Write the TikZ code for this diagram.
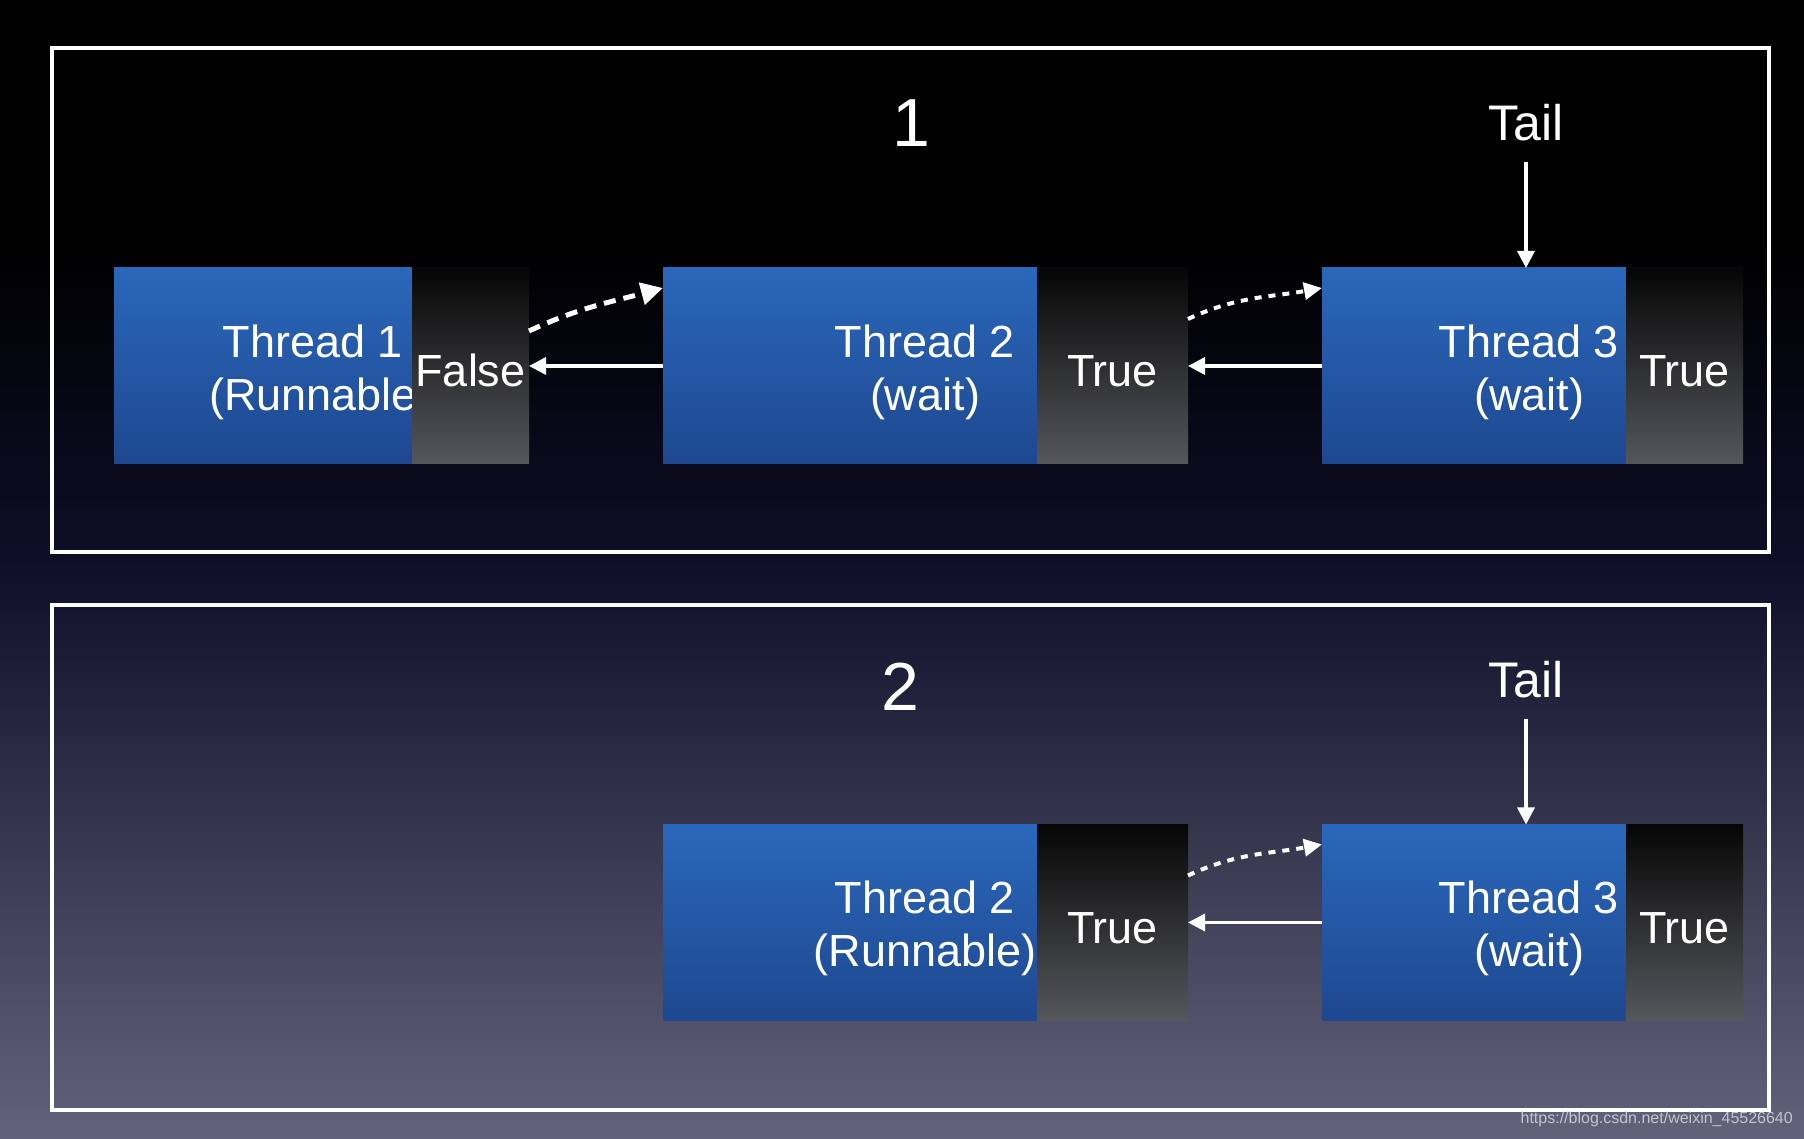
\documentclass[tikz,border=0pt]{standalone}
\usepackage{fontspec}
\setmainfont{Liberation Sans}
\usetikzlibrary{positioning,arrows.meta}
\definecolor{bgmid}{RGB}{14,14,40}
\definecolor{bgbot}{RGB}{98,98,122}
\definecolor{blueTop}{RGB}{42,103,186}
\definecolor{blueBot}{RGB}{30,72,144}
\definecolor{grayTop}{RGB}{6,6,6}
\definecolor{grayBot}{RGB}{86,87,91}
\definecolor{markgray}{RGB}{196,196,206}

\begin{document}
\begin{tikzpicture}[x=1pt, y=1pt,
    threadbox/.style={rectangle, top color=blueTop, bottom color=blueBot, minimum height=196pt, inner sep=0pt, outer sep=0pt},
    flagbox/.style={rectangle, top color=grayTop, bottom color=grayBot, minimum height=196pt, inner sep=0pt, outer sep=0pt, text=white, text height=42pt, text depth=0pt, font=\fontsize{45}{53}\selectfont},
    txt/.style={text=white, align=center, inner sep=0pt, font=\fontsize{45}{53}\selectfont},
    frame/.style={draw=white, line width=3.5pt},
    link/.style={white, line width=3.5pt, -{Triangle[length=17pt, width=17pt]}},
    dashlink/.style={white, line width=5pt, dash pattern=on 12pt off 8pt, -{Triangle[length=22pt, width=22pt]}},
    dotlink/.style={white, line width=4pt, dash pattern=on 7pt off 7pt, -{Triangle[length=18pt, width=17pt]}}]
    % background
    \useasboundingbox (0,0) rectangle (1804,1138);
    \fill[black] (0,1138) rectangle (1804,900);
    \shade[top color=black, bottom color=bgmid] (0,900) rectangle (1804,578);
    \shade[top color=bgmid, bottom color=bgbot] (0,578) rectangle (1804,0);

    % panel 1
    \draw[frame] (52,1090) rectangle (1769,586);
    \node[txt, font=\fontsize{68}{70}\selectfont] (num1) at (911,1015) {1};
    \node[txt, font=\fontsize{50}{53}\selectfont] (tail1) at (1526,1015) {Tail};

    \node[threadbox, minimum width=298pt] (t1) at (263,772) {};
    \node[txt] (t1txt) at (313,766) {Thread 1\\(Runnable};
    \node[flagbox, minimum width=117pt, right=0pt of t1] (f1) {False};

    \node[threadbox, minimum width=374pt] (t2) at (850,772) {};
    \node[txt] (t2txt) at (925,766) {Thread 2\\(wait)};
    \node[flagbox, minimum width=151pt, right=0pt of t2] (f2) {True};

    \node[threadbox, minimum width=304pt] (t3) at (1474,772) {};
    \node[txt] (t3txt) at (1529,766) {Thread 3\\(wait)};
    \node[flagbox, minimum width=117pt, right=0pt of t3] (f3) {True};

    \draw[link] (t2.west) -- (f1.east);
    \draw[link] (t3.west) -- (f2.east);
    \draw[dashlink] ([yshift=35pt]f1.east) to[out=25, in=195] ([yshift=-20pt]t2.north west);
    \draw[dotlink] ([yshift=47pt]f2.east) to[out=25, in=190] ([yshift=-20pt]t3.north west);
    \draw[link, shorten <=20pt] (tail1.south) -- (tail1.south |- t3.north);

    % panel 2
    \draw[frame] (52,533) rectangle (1769,28);
    \node[txt, font=\fontsize{68}{70}\selectfont] (num2) at (900,451) {2};
    \node[txt, font=\fontsize{50}{53}\selectfont] (tail2) at (1526,458) {Tail};

    \node[threadbox, minimum width=374pt] (t2b) at (850,215.5) {};
    \node[txt] (t2btxt) at (925,209.5) {Thread 2\\(Runnable)};
    \node[flagbox, minimum width=151pt, right=0pt of t2b] (f2b) {True};

    \node[threadbox, minimum width=304pt] (t3b) at (1474,215.5) {};
    \node[txt] (t3btxt) at (1529,209.5) {Thread 3\\(wait)};
    \node[flagbox, minimum width=117pt, right=0pt of t3b] (f3b) {True};

    \draw[link] (t3b.west) -- (f2b.east);
    \draw[dotlink] ([yshift=47pt]f2b.east) to[out=25, in=190] ([yshift=-20pt]t3b.north west);
    \draw[link, shorten <=20pt] (tail2.south) -- (tail2.south |- t3b.north);

    \node[anchor=east, text=markgray, inner sep=0pt, font=\fontsize{16}{18}\selectfont] (mark) at (1793,19) {https://blog.csdn.net/weixin\_45526640};
\end{tikzpicture}
\end{document}
